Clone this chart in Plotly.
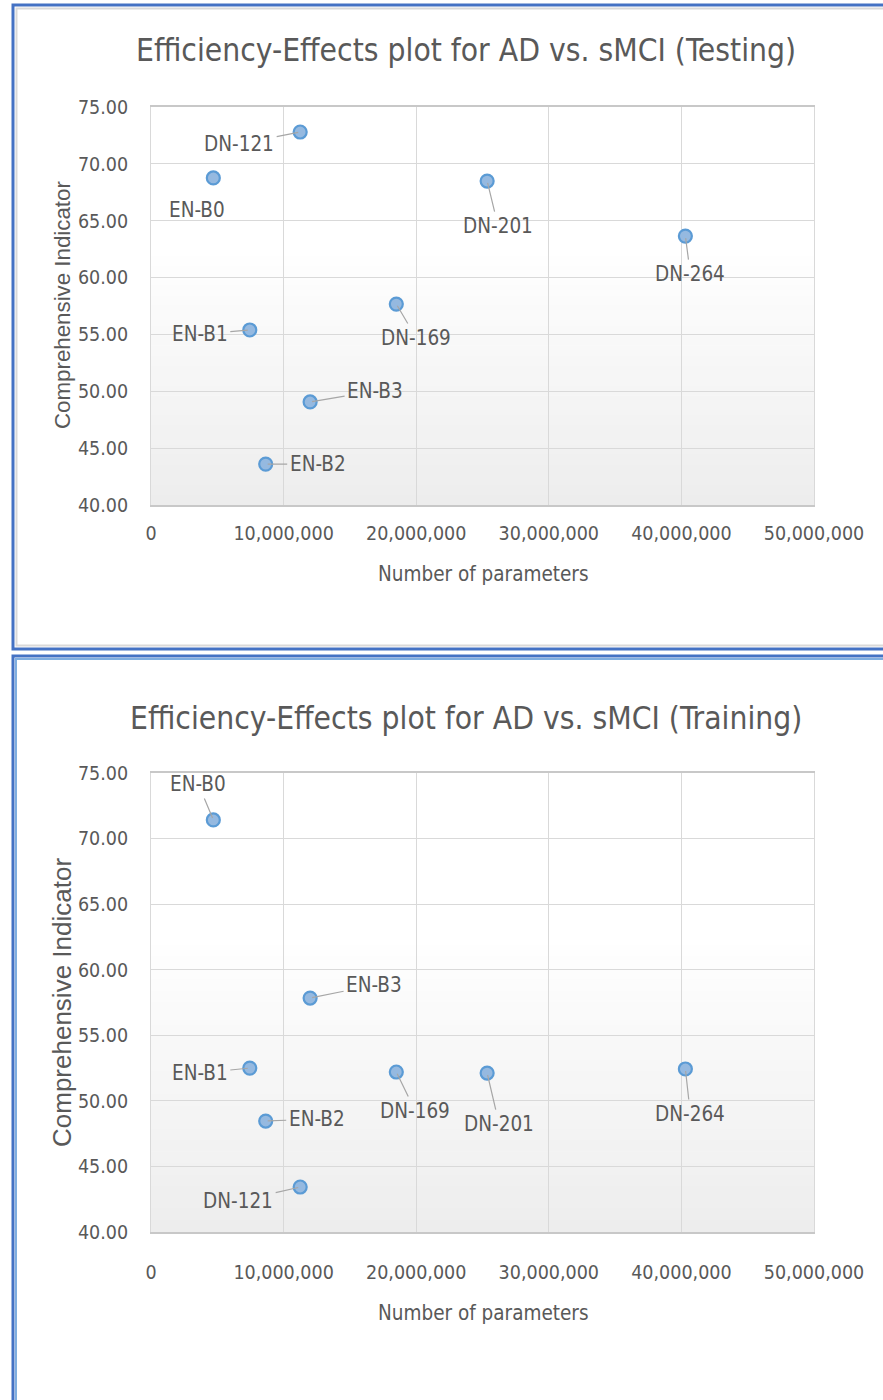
import plotly.graph_objects as go

# ---------------- data ----------------
models = ["EN-B0", "EN-B1", "EN-B2", "EN-B3", "DN-121", "DN-169", "DN-201", "DN-264"]
params = [4.7e6, 7.45e6, 8.65e6, 12.0e6, 11.25e6, 18.5e6, 25.35e6, 40.3e6]
testing_ci = [68.76, 55.39, 43.60, 49.06, 72.80, 57.67, 68.49, 63.65]
training_ci = [71.42, 52.50, 48.46, 57.84, 43.43, 52.20, 52.12, 52.43]

x_ticks = [0, 10e6, 20e6, 30e6, 40e6, 50e6]
y_ticks = [40, 45, 50, 55, 60, 65, 70, 75]

titles = ["Efficiency-Effects plot for AD vs. sMCI (Testing)",
          "Efficiency-Effects plot for AD vs. sMCI (Training)"]
x_title = "Number of parameters"
y_title = "Comprehensive Indicator"

# label offsets in pixels (dx, dy, leader line?)
test_offsets = {
    "EN-B0": (-16, 32, False), "EN-B1": (-50, 4, True), "EN-B2": (52, 0, True),
    "EN-B3": (65, -11, True), "DN-121": (-61, 12, True), "DN-169": (20, 34, True),
    "DN-201": (11, 45, True), "DN-264": (5, 38, True),
}
train_offsets = {
    "EN-B0": (-15, -36, True), "EN-B1": (-50, 5, True), "EN-B2": (51, -2, True),
    "EN-B3": (64, -13, True), "DN-121": (-62, 14, True), "DN-169": (19, 39, True),
    "DN-201": (12, 51, True), "DN-264": (5, 45, True),
}

# ---------------- style ----------------
W, H = 883, 1400
NARROW = "DejaVu Sans Condensed, Liberation Sans Narrow, sans-serif"
REG = "Liberation Sans, Arial, sans-serif"
TXT = "#595959"
GRID = "#D9D9D9"


def fx(p):
    return p / W


def fy(p):
    return 1 - p / H


panels = [
    dict(vals=testing_ci, offs=test_offsets, top=107, bot=505, title_y=50,
         xt_y=574, yt_y=305, yt_size=22.3, x_standoff=10, xa="x", ya="y"),
    dict(vals=training_ci, offs=train_offsets, top=773, bot=1232, title_y=718,
         xt_y=1313, yt_y=1003, yt_size=26, x_standoff=22, xa="x2", ya="y2"),
]
PL, PR = 151, 814

fig = go.Figure()
annotations = []
shapes = []

for k, p in enumerate(panels):
    fig.add_trace(go.Scatter(
        x=params, y=p["vals"], mode="markers", xaxis=p["xa"], yaxis=p["ya"],
        marker=dict(size=13, color="#95B9E0", line=dict(color="#5B9BD5", width=2.2)),
        showlegend=False, hoverinfo="skip"))

    suffix = "" if k == 0 else "2"
    fig.update_layout(**{
        "xaxis" + suffix: dict(
            domain=[fx(PL), fx(PR)], anchor=p["ya"], range=[0, 50e6],
            tickvals=x_ticks, tickformat=",d", showgrid=True, gridcolor=GRID,
            gridwidth=1, zeroline=False, showline=True, linecolor="#C8C8C8",
            linewidth=1.5, mirror=True, ticks="", ticklabelstandoff=p["x_standoff"],
            automargin=False,
            tickfont=dict(family=NARROW, size=19.5, color=TXT), fixedrange=True),
        "yaxis" + suffix: dict(
            domain=[fy(p["bot"]), fy(p["top"])], anchor=p["xa"], range=[40, 75],
            tickvals=y_ticks, tickformat=".2f", showgrid=True, gridcolor=GRID,
            gridwidth=1, zeroline=False, showline=True, linecolor=GRID,
            linewidth=1, mirror=True, ticks="", ticklabelstandoff=18,
            automargin=False,
            tickfont=dict(family=NARROW, size=19.5, color=TXT), fixedrange=True),
    })

    # gradient background of plot area
    nb = 40
    for b in range(nb):
        t = (b + 0.5) / nb  # 0 top -> 1 bottom
        g = 0.0 if t < 0.35 else (t - 0.35) / 0.65
        c = int(round(255 - g * (255 - 237)))
        shapes.append(dict(
            type="rect", xref=p["xa"] + " domain", yref=p["ya"] + " domain",
            x0=0, x1=1, y0=1 - (b + 1) / nb, y1=1 - b / nb + 0.001,
            fillcolor=f"rgb({c},{c},{c})", line=dict(width=0), layer="below"))

    # chart title
    annotations.append(dict(
        text=titles[k], xref="paper", yref="paper", x=fx(466), y=fy(p["title_y"]),
        xanchor="center", yanchor="middle", showarrow=False,
        font=dict(family=NARROW, size=31.5, color=TXT)))
    # axis titles
    annotations.append(dict(
        text=x_title, xref="paper", yref="paper", x=fx(483), y=fy(p["xt_y"]),
        xanchor="center", yanchor="middle", showarrow=False,
        font=dict(family=NARROW, size=20.5, color=TXT)))
    annotations.append(dict(
        text=y_title, xref="paper", yref="paper", x=fx(62), y=fy(p["yt_y"]),
        xanchor="center", yanchor="middle", showarrow=False, textangle=-90,
        font=dict(family=REG, size=p["yt_size"], color=TXT)))

    # data labels
    for m, xv, yv in zip(models, params, p["vals"]):
        dx, dy, lead = p["offs"][m]
        a = dict(text=m, x=xv, y=yv, xref=p["xa"], yref=p["ya"],
                 font=dict(family=NARROW, size=20.5, color=TXT))
        if lead:
            a.update(showarrow=True, ax=dx, ay=dy, arrowhead=0, arrowwidth=1.2,
                     arrowcolor="#A6A6A6", standoff=2, borderpad=2)
        else:
            a.update(showarrow=False, xshift=dx, yshift=-dy)
        annotations.append(a)


def open_frame(left, top, bottom):
    # open path: right side is cut off by the picture edge
    if bottom is None:
        return f"M 1,{fy(top)} L {fx(left)},{fy(top)} L {fx(left)},0"
    return (f"M 1,{fy(top)} L {fx(left)},{fy(top)} L {fx(left)},{fy(bottom)} "
            f"L 1,{fy(bottom)}")


shapes += [
    dict(type="path", xref="paper", yref="paper", path=open_frame(16.5, 8.5, 645.5),
         line=dict(color="#D9D9D9", width=2), layer="above"),
    dict(type="path", xref="paper", yref="paper", path=open_frame(13, 5, 649),
         line=dict(color="#4472C4", width=3), layer="above"),
    dict(type="path", xref="paper", yref="paper", path=open_frame(16, 659, None),
         line=dict(color="#7FAEE0", width=2), layer="above"),
    dict(type="path", xref="paper", yref="paper", path=open_frame(13, 656, None),
         line=dict(color="#4472C4", width=3), layer="above"),
]

fig.update_layout(
    width=W, height=H, margin=dict(l=0, r=0, t=0, b=0, autoexpand=False),
    paper_bgcolor="white", plot_bgcolor="white",
    annotations=annotations, shapes=shapes, showlegend=False,
)

fig.write_html("out.html")
